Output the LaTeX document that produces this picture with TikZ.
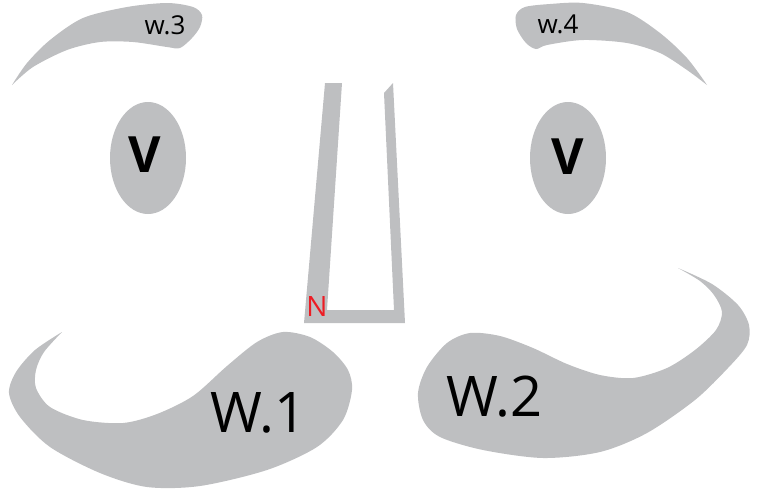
\documentclass[tikz,border=0pt]{standalone}
\usepackage{fontspec}
\setmainfont{Open Sans}
\definecolor{facegray}{RGB}{190,191,193}
\definecolor{tagred}{RGB}{237,28,36}
\tikzset{
  patch/.style={fill=facegray, draw=none},
  browtag/.style={font=\fontsize{26}{26}\selectfont, inner sep=0pt},
  eyetag/.style={font=\fontsize{50}{50}\selectfont\bfseries, inner sep=0pt},
  lobetag/.style={font=\fontsize{56}{56}\selectfont, inner sep=0pt},
  nosetag/.style={font=\fontsize{28}{28}\selectfont, text=tagred, inner sep=0pt},
}
\begin{document}
\begin{tikzpicture}[x=1pt,y=-1pt]
\useasboundingbox (0,0) rectangle (761,491);
% brows
\fill[patch] plot[smooth] coordinates {(12,85) (27,63) (50,40) (83,18) (127,7) (167,3) (193,7) (202,15) (200,27) (192,38) (180,48) (167,47) (133,42) (100,42) (67,50) (33,67) (12,85)} -- cycle;
\fill[patch] plot[smooth] coordinates {(707,85) (687,70) (660,53) (627,43) (583,40) (547,45) (536,49) (526,43) (517,29) (516,15) (525,7) (550,4) (583,3) (627,12) (660,33) (687,58) (707,85)} -- cycle;
% eyes
\fill[patch] (148,158) ellipse [x radius=38, y radius=56];
\fill[patch] (568,158) ellipse [x radius=38, y radius=56];
% nose
\fill[patch] (325,83) -- (304,323) -- (405,323) -- (393,83) -- (384,93) -- (394,310) -- (327,310) -- (342,83) -- cycle;
% lower lobes
\fill[patch] plot[smooth] coordinates {(62,332) (35,350) (16,372) (9,393) (20,417) (50,447) (100,473) (147,487) (200,486) (267,470) (317,447) (343,420) (352,390) (348,370) (333,352) (310,337) (283,332) (257,342) (227,366) (193,396) (157,414) (123,423) (83,420) (50,407) (36,388) (36,370) (44,352) (62,332)} -- cycle;
\fill[patch] plot[smooth] coordinates {(678,268) (712,284) (738,305) (749,325) (747,345) (728,368) (695,400) (647,433) (600,452) (543,458) (483,450) (440,437) (423,420) (418,393) (427,367) (447,343) (470,333) (500,336) (533,348) (567,364) (600,375) (633,378) (667,368) (695,350) (716,330) (722,312) (714,295) (700,281) (678,268)} -- cycle;
% labels
\node[browtag] (w3) at (165,25) {w.3};
\node[browtag] (w4) at (558,24) {w.4};
\node[eyetag] (vleft) at (145,155) {V};
\node[eyetag] (vright) at (568,157) {V};
\node[nosetag] (nose) at (317,306) {N};
\node[lobetag] (w1) at (258,413) {W.1};
\node[lobetag] (w2) at (494,397) {W.2};
\end{tikzpicture}
\end{document}
